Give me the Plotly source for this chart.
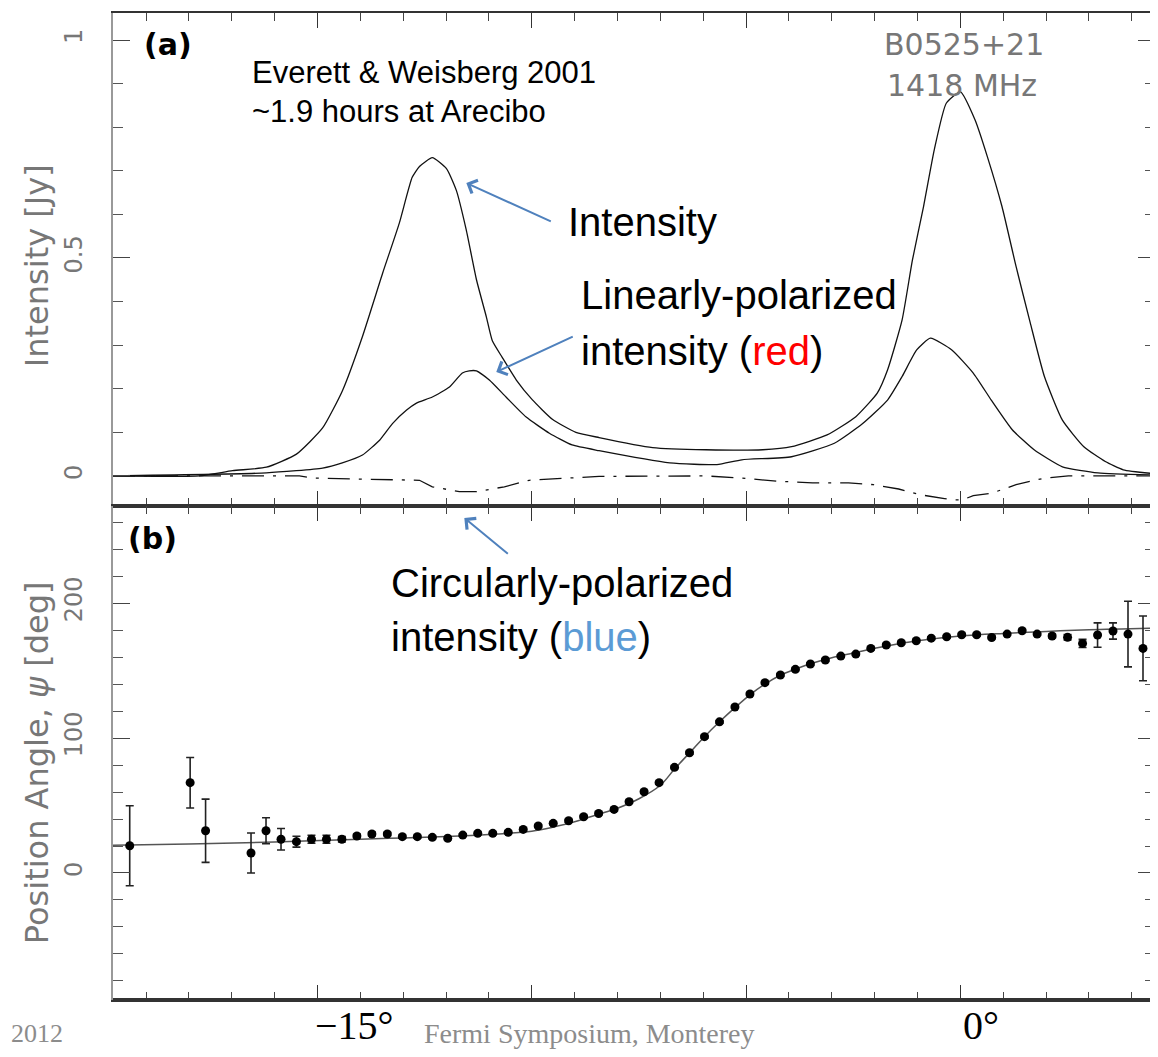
import plotly.graph_objects as go

# ---------------- data ----------------
# Panel (a): pulse profile, longitude in degrees, intensity in Jy
i_lon = [-19.77, -17.75, -16.98, -16.19, -15.49, -14.88, -14.42, -13.95, -13.48, -13.09,
         -12.79, -12.62, -12.32, -11.99, -11.76, -11.53, -11.29, -11.06, -10.92, -10.69,
         -10.36, -9.99, -9.52, -8.97, -8.43, -7.18, -5.94, -4.61, -3.94, -3.11,
         -2.44, -1.94, -1.70, -1.36, -1.12, -0.86, -0.61, -0.33, 0.0, 0.34,
         0.63, 0.97, 1.30, 1.63, 1.96, 2.38, 2.88, 3.38, 3.80, 4.54]
i_val = [0.0, 0.0, 0.012, 0.02, 0.05, 0.11, 0.195, 0.32, 0.465, 0.58,
         0.685, 0.71, 0.73, 0.705, 0.655, 0.565, 0.45, 0.365, 0.31, 0.272,
         0.22, 0.175, 0.13, 0.10, 0.088, 0.065, 0.06, 0.06, 0.067, 0.094,
         0.136, 0.19, 0.243, 0.358, 0.495, 0.618, 0.748, 0.855, 0.881, 0.817,
         0.732, 0.618, 0.48, 0.351, 0.228, 0.128, 0.067, 0.033, 0.014, 0.005]

l_lon = [-19.77, -16.19, -14.88, -14.42, -13.95, -13.55, -13.25, -12.92, -12.69, -12.32,
         -11.92, -11.62, -11.46, -11.29, -10.99, -10.60, -10.13, -9.59, -9.06, -8.43,
         -6.78, -5.68, -5.10, -3.94, -2.94, -2.28, -1.70, -1.36, -1.02, -0.70,
         -0.20, 0.30, 0.72, 1.21, 1.72, 2.38, 3.21, 4.54]
l_val = [0.0, 0.007, 0.018, 0.03, 0.048, 0.082, 0.12, 0.151, 0.167, 0.181,
         0.204, 0.236, 0.241, 0.241, 0.22, 0.181, 0.135, 0.098, 0.071, 0.058,
         0.03, 0.026, 0.037, 0.044, 0.075, 0.12, 0.174, 0.228, 0.289, 0.316,
         0.289, 0.236, 0.174, 0.106, 0.06, 0.021, 0.007, 0.002]

v_lon = [-19.77, -15.42, -15.11, -14.37, -13.09, -12.62, -12.32, -11.69, -11.29, -10.64,
         -10.06, -9.20, -8.43, -5.94, -5.10, -4.29, -3.45, -2.61, -2.03, -1.44,
         -0.95, -0.37, -0.16, 0.05, 0.30, 0.72, 1.30, 1.96, 2.52, 4.54]
v_val = [0.0, 0.0, -0.005, -0.007, -0.009, -0.01, -0.025, -0.036, -0.036, -0.025,
         -0.01, -0.005, -0.001, 0.0, -0.005, -0.012, -0.016, -0.016, -0.02, -0.03,
         -0.043, -0.052, -0.055, -0.055, -0.045, -0.04, -0.02, -0.005, 0.0, 0.0]

# Panel (b): position angle (deg) with errors
pa_lon = [-19.38, -17.97, -17.61, -16.55, -16.20, -15.85, -15.49, -15.14, -14.79, -14.43,
          -14.08, -13.73, -13.37, -13.02, -12.67, -12.32, -11.96, -11.61, -11.26, -10.91,
          -10.55, -10.20, -9.85, -9.50, -9.14, -8.79, -8.44, -8.08, -7.73, -7.38,
          -7.03, -6.67, -6.32, -5.97, -5.62, -5.26, -4.91, -4.56, -4.20, -3.85,
          -3.50, -3.15, -2.79, -2.44, -2.09, -1.73, -1.38, -1.03, -0.68, -0.32,
          0.03, 0.38, 0.73, 1.09, 1.44, 1.79, 2.14, 2.50, 2.85, 3.20,
          3.56, 3.91, 4.26]
pa_val = [20.2, 66.9, 31.3, 14.8, 31.3, 25.0, 23.2, 25.0, 25.0, 25.0,
          27.4, 28.9, 28.9, 26.9, 26.9, 26.4, 25.7, 28.1, 29.4, 29.4,
          30.1, 32.3, 34.8, 36.8, 38.7, 41.7, 44.1, 47.1, 52.8, 60.2,
          66.9, 78.3, 89.1, 101.0, 112.0, 123.0, 132.6, 141.0, 146.7, 150.9,
          154.8, 157.8, 160.7, 162.2, 166.4, 168.9, 170.6, 172.1, 174.0, 175.0,
          176.5, 176.5, 174.5, 177.0, 179.5, 177.0, 175.6, 174.6, 170.1, 176.3,
          179.3, 177.0, 166.4]
pa_err = [29.6, 18.7, 23.4, 14.8, 9.6, 8.0, 4.0, 3.0, 3.0, 2.0,
          1.5, 1.5, 1.2, 1.2, 1.0, 1.0, 1.0, 1.0, 1.0, 1.0,
          1.0, 1.0, 1.0, 1.0, 1.0, 1.0, 1.0, 1.0, 1.0, 1.0,
          1.0, 1.0, 1.0, 1.0, 1.0, 1.0, 1.0, 1.0, 1.0, 1.0,
          1.0, 1.0, 1.0, 1.0, 1.0, 1.0, 1.0, 1.0, 1.0, 1.0,
          1.0, 1.0, 1.0, 1.0, 1.0, 1.0, 1.5, 2.0, 3.0, 9.0,
          6.0, 24.3, 24.0]

fit_lon = [-19.77, -18.0, -16.0, -14.0, -13.0, -12.0, -11.0, -10.0, -9.5, -9.0,
           -8.5, -8.0, -7.5, -7.0, -6.67, -6.32, -5.97, -5.62, -5.26, -4.91,
           -4.56, -4.2, -3.85, -3.5, -3.0, -2.5, -2.0, -1.5, -1.0, 0.0,
           1.0, 2.0, 3.0, 4.54]
fit_val = [20.5, 21.5, 23.0, 25.0, 26.0, 27.0, 28.5, 31.0, 34.0, 38.0,
           43.0, 48.0, 55.0, 65.0, 77.0, 89.0, 101.0, 112.0, 122.5, 132.0,
           140.0, 146.5, 151.0, 155.0, 159.5, 163.0, 166.5, 169.5, 172.0, 175.5,
           177.5, 179.0, 180.3, 181.5]

x_range = [-19.77, 4.54]
ya_range = [-0.069, 1.062]
yb_range = [-94.1, 271.9]

# ---------------- figure ----------------
OFF = 8                      # default page body margin
W, H = 1158 - OFF, 1057 - OFF
ML, MR, MT, MB = 113 - OFF, 1, 13 - OFF, 57
PW, PH = W - ML - MR, H - MT - MB
split = (1000 - 506) / PH


def px(x):   # reference-screenshot pixel -> paper fraction
    return (x - OFF - ML) / PW


def py(y):
    return (H + OFF - MB - y) / PH


fig = go.Figure()
line_k = dict(color="#111111", width=1.3, shape="spline", smoothing=0.5)
fig.add_trace(go.Scatter(x=i_lon, y=i_val, mode="lines", line=line_k,
                         xaxis="x", yaxis="y", showlegend=False))
fig.add_trace(go.Scatter(x=l_lon, y=l_val, mode="lines", line=line_k,
                         xaxis="x", yaxis="y", showlegend=False))
fig.add_trace(go.Scatter(x=v_lon, y=v_val, mode="lines",
                         line=dict(color="#111111", width=1.3, dash="22px,9px,3px,9px"),
                         xaxis="x", yaxis="y", showlegend=False))
fig.add_trace(go.Scatter(x=fit_lon, y=fit_val, mode="lines",
                         line=dict(color="#555555", width=1.5, shape="spline"),
                         xaxis="x2", yaxis="y2", showlegend=False))
fig.add_trace(go.Scatter(x=pa_lon, y=pa_val, mode="markers",
                         marker=dict(color="#000000", size=9),
                         error_y=dict(type="data", array=pa_err, color="#222222",
                                      thickness=1.6, width=4),
                         xaxis="x2", yaxis="y2", showlegend=False))

tickfont = dict(family="DejaVu Sans", size=24, color="#777777")
xcommon = dict(range=x_range, showgrid=False, zeroline=False, showline=True,
               linecolor="#333333", linewidth=1.5, mirror="ticks",
               ticks="inside", ticklen=15, tickwidth=1.3, tickcolor="#333333",
               tick0=0, dtick=5, showticklabels=False,
               minor=dict(ticks="inside", ticklen=8, tickwidth=1.2,
                          tickcolor="#444444", dtick=1))
ycommon = dict(showgrid=False, zeroline=False, showline=True,
               linecolor="#999999", linewidth=1.5, mirror="ticks",
               ticks="inside", ticklen=17, tickwidth=1.3, tickcolor="#444444",
               tickangle=-90, tickfont=tickfont, ticklabelstandoff=20)

fig.update_layout(
    width=W, height=H,
    margin=dict(l=ML, r=MR, t=MT, b=MB, pad=0),
    paper_bgcolor="white", plot_bgcolor="white",
    xaxis=dict(domain=[0, 1], anchor="y", **xcommon),
    yaxis=dict(domain=[split, 1], anchor="x", range=ya_range, tick0=0, dtick=0.5,
               minor=dict(ticks="inside", ticklen=10, tickwidth=1.2,
                          tickcolor="#555555", dtick=0.1), **ycommon),
    xaxis2=dict(domain=[0, 1], anchor="y2", **xcommon),
    yaxis2=dict(domain=[0, split], anchor="x2", range=yb_range, tick0=0, dtick=100,
                minor=dict(ticks="inside", ticklen=10, tickwidth=1.2,
                           tickcolor="#555555", dtick=20), **ycommon),
)

# thick bottom frame line
fig.add_shape(type="line", xref="paper", yref="paper", x0=0, x1=1, y0=0, y1=0,
              line=dict(color="#333333", width=4))

ann = []


def txt(text, x, y, size, color="#000000", family="Liberation Sans", xanchor="left",
        angle=0, weight="normal"):
    ann.append(dict(text=text, x=px(x), y=py(y), xref="paper", yref="paper",
                    xanchor=xanchor, yanchor="middle", showarrow=False,
                    textangle=angle,
                    font=dict(family=family, size=size, color=color, weight=weight)))


# axis titles
txt("Intensity [Jy]", 37, 266, 32, color="#777777", family="DejaVu Sans",
    xanchor="center", angle=-90)
txt("Position Angle, <i>ψ</i> [deg]", 37, 763, 32, color="#777777",
    family="DejaVu Sans", xanchor="center", angle=-90)

# panel labels and plot texts
txt("(a)", 142, 45, 30, family="DejaVu Sans", weight="bold")
txt("(b)", 126, 538, 30, family="DejaVu Sans", weight="bold")
txt("Everett &amp; Weisberg 2001", 250, 72, 31)
txt("~1.9 hours at Arecibo", 250, 112, 31)
txt("B0525+21", 883, 44, 30, color="#777777", family="DejaVu Sans")
txt("1418 MHz", 886, 86, 30, color="#777777", family="DejaVu Sans")

# slide callouts
txt("Intensity", 567, 222, 40)
txt("Linearly-polarized", 580, 295, 40)
txt("intensity (<span style='color:#ff0000'>red</span>)", 580, 351, 40)
txt("Circularly-polarized", 390, 583, 40)
txt("intensity (<span style='color:#5b9bd5'>blue</span>)", 390, 637, 40)

# slide footer / axis labels
txt("2012", 9, 1033, 26, color="#8c8c8c", family="Liberation Serif")
txt("Fermi Symposium, Monterey", 423, 1033, 28, color="#8c8c8c",
    family="Liberation Serif")
txt("−15°", 355, 1025, 40, family="Liberation Serif", xanchor="center")
txt("0°", 983, 1025, 40, family="Liberation Serif", xanchor="center")


def arrow(hx, hy, tx, ty):
    ann.append(dict(text="", x=px(hx), y=py(hy), xref="paper", yref="paper",
                    ax=tx - hx, ay=ty - hy, axref="pixel", ayref="pixel",
                    showarrow=True, arrowhead=4, arrowsize=1.4, arrowwidth=2,
                    arrowcolor="#4f81bd"))


arrow(467, 183, 553, 222)
arrow(497, 372, 575, 336)
arrow(465, 518, 510, 555)

fig.update_layout(annotations=ann)
fig.write_html("out.html")
